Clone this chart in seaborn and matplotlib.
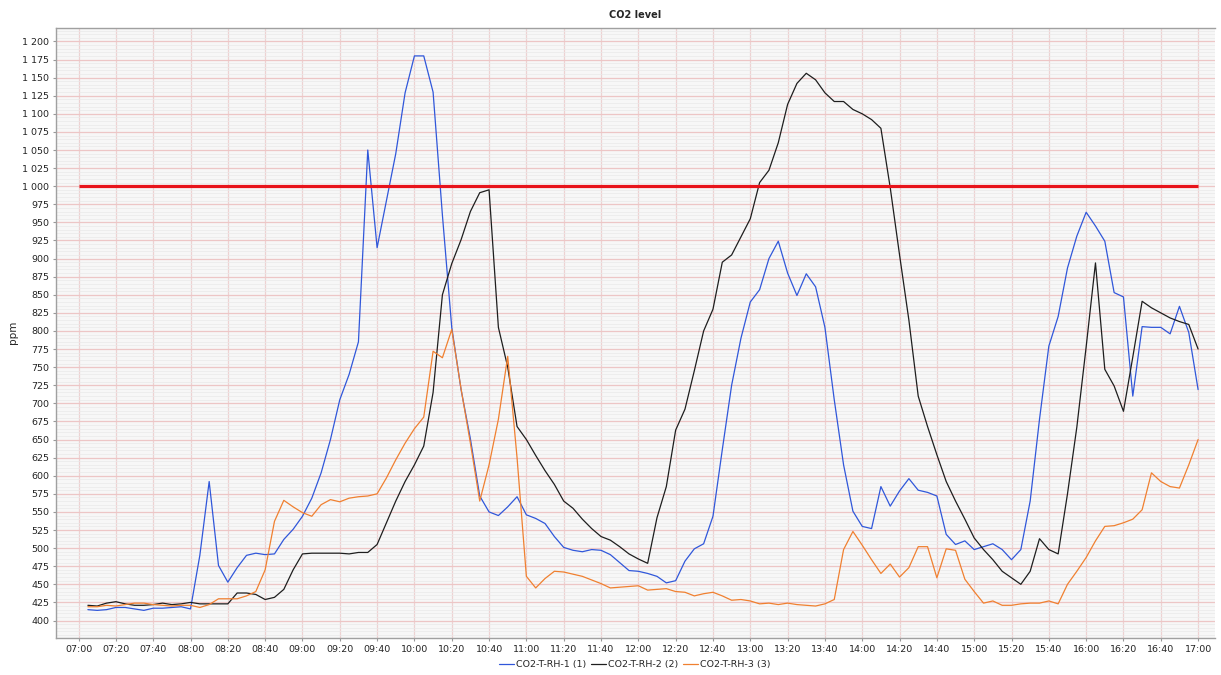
import pandas as pd
import seaborn as sns
import matplotlib.pyplot as plt
import matplotlib.dates as mdates
from matplotlib.ticker import FuncFormatter, MultipleLocator

# readings every 5 minutes, 07:05 -> 17:00
START = "2020-01-01 07:05"
N_POINTS = 120

sensor1 = [
    415, 414, 415, 418, 418, 416, 414, 417, 417, 418, 419,
    416, 490, 592, 476, 453, 473, 490, 493, 491, 492, 512, 526,
    544, 569, 604, 650, 705, 740, 785, 1050, 915, 980, 1045, 1129,
    1180, 1180, 1130, 960, 805, 719, 651, 572, 550, 545, 557, 571,
    546, 541, 534, 516, 501, 497, 495, 498, 497, 491, 480, 469,
    468, 465, 461, 452, 455, 482, 499, 506, 544, 636, 725, 790,
    840, 857, 900, 924, 880, 849, 879, 861, 805, 705, 615, 551,
    530, 527, 585, 558, 579, 596, 580, 577, 572, 519, 505, 510,
    498, 502, 506, 498, 484, 498, 565, 678, 779, 820, 887, 931,
    964, 945, 924, 853, 847, 710, 806, 805, 805, 796, 834, 798,
    719,
]
sensor2 = [
    421, 420, 424, 426, 423, 421, 421, 422, 424, 422, 423,
    425, 423, 423, 423, 423, 438, 438, 436, 429, 432, 443, 470,
    492, 493, 493, 493, 493, 492, 494, 494, 505, 535, 565, 592,
    615, 641, 715, 850, 893, 926, 965, 991, 995, 805, 750, 668,
    650, 628, 607, 588, 565, 555, 540, 527, 516, 511, 502, 492,
    485, 479, 542, 585, 663, 692, 745, 800, 830, 895, 905, 930,
    955, 1005, 1022, 1060, 1113, 1142, 1156, 1147, 1129, 1117, 1117, 1106,
    1100, 1092, 1080, 998, 905, 815, 710, 668, 629, 592, 565, 540,
    514, 498, 484, 468, 459, 450, 468, 513, 498, 492, 575, 667,
    778, 894, 747, 724, 689, 764, 841, 832, 825, 818, 813, 809,
    775,
]
sensor3 = [
    419, 419, 421, 420, 422, 424, 424, 422, 421, 420, 421,
    421, 418, 422, 430, 430, 430, 434, 440, 470, 537, 566, 557,
    549, 544, 560, 567, 564, 569, 571, 572, 575, 597, 622, 645,
    665, 681, 772, 763, 802, 720, 645, 565, 615, 678, 765, 625,
    461, 445, 458, 468, 467, 464, 461, 456, 451, 445, 446, 447,
    448, 442, 443, 444, 440, 439, 434, 437, 439, 434, 428, 429,
    427, 423, 424, 422, 424, 422, 421, 420, 423, 429, 498, 523,
    504, 484, 465, 478, 460, 473, 502, 502, 459, 499, 497, 457,
    440, 424, 427, 421, 421, 423, 424, 424, 427, 423, 450, 468,
    487, 510, 530, 531, 535, 540, 553, 604, 592, 585, 583, 615,
    650,
]
series_names = ["CO2-T-RH-1 (1)", "CO2-T-RH-2 (2)", "CO2-T-RH-3 (3)"]
series_colors = ["#3057DA", "#1E1E1E", "#F08030"]

LIMIT = 1000
LIMIT_START = "2020-01-01 07:00"
LIMIT_END = "2020-01-01 17:00"


def main() -> None:
    sns.set_style("white")
    plt.rcParams["font.family"] = ["DejaVu Sans"]

    times = pd.date_range(START, periods=N_POINTS, freq="5min")
    wide = pd.DataFrame(
        {series_names[0]: sensor1, series_names[1]: sensor2, series_names[2]: sensor3},
        index=times,
    )
    df = wide.reset_index(names="time").melt(id_vars="time", var_name="series", value_name="ppm")

    fig = plt.figure(figsize=(12.21, 6.75), dpi=100)
    ax = fig.add_axes([0.046, 0.055, 0.949, 0.904])
    ax.set_facecolor("#F7F7F7")

    # grid: fine gray minor lines, pink major lines
    ax.yaxis.set_major_locator(MultipleLocator(25))
    ax.yaxis.set_minor_locator(MultipleLocator(5))
    ax.xaxis.set_major_locator(mdates.MinuteLocator(byminute=[0, 20, 40]))
    ax.xaxis.set_major_formatter(mdates.DateFormatter("%H:%M"))
    ax.grid(which="minor", axis="y", color="#E9E9E9", lw=0.5)
    ax.grid(which="major", axis="y", color="#EDC6C6", lw=0.9)
    ax.grid(which="major", axis="x", color="#EDD2D2", lw=0.9)
    ax.set_axisbelow(True)

    sns.lineplot(
        data=df, x="time", y="ppm", hue="series",
        palette=dict(zip(series_names, series_colors)),
        lw=0.9, ax=ax, legend=False,
    )

    ax.hlines(LIMIT, pd.Timestamp(LIMIT_START), pd.Timestamp(LIMIT_END),
              color="#E8141B", lw=2.3, zorder=5)

    ax.set_xlim(pd.Timestamp("2020-01-01 06:48"), pd.Timestamp("2020-01-01 17:09"))
    ax.set_ylim(376, 1219)
    ax.yaxis.set_major_formatter(FuncFormatter(lambda v, p: f"{int(v):,}".replace(",", " ")))

    ax.tick_params(axis="both", which="major", labelsize=6.8, length=2, color="#999999",
                   pad=3, labelcolor="#222222")
    ax.tick_params(axis="y", which="minor", length=0)
    ax.tick_params(left=True, bottom=True)
    for side in ["left", "bottom", "top"]:
        ax.spines[side].set_color("#A0A0A0")
        ax.spines[side].set_linewidth(1.0)
    ax.spines["right"].set_visible(False)

    ax.set_xlabel("")
    ax.set_ylabel("ppm", fontsize=7.5, labelpad=3)
    ax.set_title("CO2 level", fontsize=7, fontweight="bold", pad=7)

    handles = [plt.Line2D([], [], color=c, lw=0.9) for c in series_colors]
    fig.legend(handles, series_names, loc="lower center", bbox_to_anchor=(0.52, -0.004),
               ncol=3, frameon=False, fontsize=6.8, handlelength=1.6, handletextpad=0.2,
               columnspacing=0.5)

    plt.savefig("out.png", dpi=100)


main()
